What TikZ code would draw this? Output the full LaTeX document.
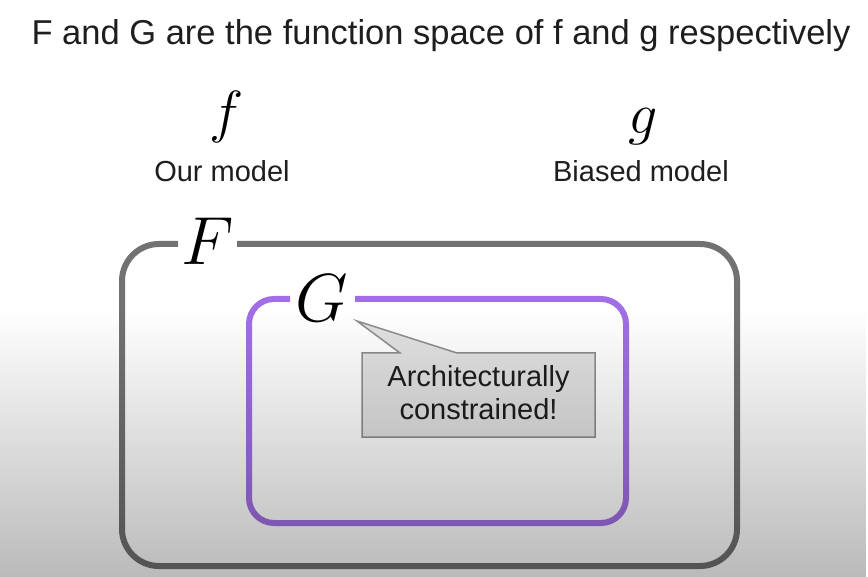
\RequirePackage{fix-cm}
\documentclass[tikz,border=0pt]{standalone}
\usepackage{fontspec}
\setmainfont{Liberation Sans}
\usetikzlibrary{fadings}
\definecolor{boxgray}{HTML}{727272}
\definecolor{boxpurple}{HTML}{A16FE3}
\definecolor{callfill}{HTML}{E2E2E2}
\definecolor{callline}{HTML}{8E8E8E}
\definecolor{textcol}{HTML}{1E1E1E}
\tikzset{
  title/.style={anchor=base, text=textcol, inner sep=0pt, font=\fontsize{34.5}{40}\selectfont},
  mathsym/.style={anchor=base, inner sep=0pt, font=\fontsize{58}{60}\selectfont},
  spacesym/.style={anchor=base, inner sep=0pt, font=\fontsize{68}{70}\selectfont},
  caption/.style={anchor=base, text=textcol, inner sep=0pt, font=\fontsize{29}{33}\selectfont},
  spacebox/.style={line width=6pt},
  callout/.style={fill=callfill, draw=callline, line width=1.5pt, line join=miter},
}
\begin{document}
\begin{tikzpicture}[x=1pt,y=-1pt]
\useasboundingbox (0,0) rectangle (868,577);
\fill[white] (0,0) rectangle (868,577);

\node[title] (title) at (441,45) {F and G are the function space of f and g respectively};

\node[mathsym] (f) at (227,132) {$f$};
\node[caption] (om) at (222,182) {Our model};
\node[mathsym] (g) at (643,134) {$g$};
\node[caption] (bm) at (641,182) {Biased model};

% outer space F
\draw[spacebox, boxgray, rounded corners=37pt]
  (237,244) -- (737,244) -- (737,566) -- (122,566) -- (122,244) -- (178,244);
\node[spacesym] (F) at (208,265) {$F$};

% inner space G
\draw[spacebox, boxpurple, rounded corners=25pt]
  (355,299) -- (626,299) -- (626,523) -- (249,523) -- (249,299) -- (290,299);
\node[spacesym] (G) at (322,322) {$G$};

% callout
\coordinate (tip) at (357,321);
\draw[callout] (362,353) -- (400,353) -- (tip) -- (457,353) -- (595,353)
  -- (595,437) -- (362,437) -- cycle;
\node[caption] (c1) at (478.5,387) {Architecturally};
\node[caption] (c2) at (478.5,420) {constrained!};

% video-like darkening towards the bottom
\fill[black, path fading=north, fill opacity=0.27] (0,310) rectangle (868,577);
\end{tikzpicture}
\end{document}
